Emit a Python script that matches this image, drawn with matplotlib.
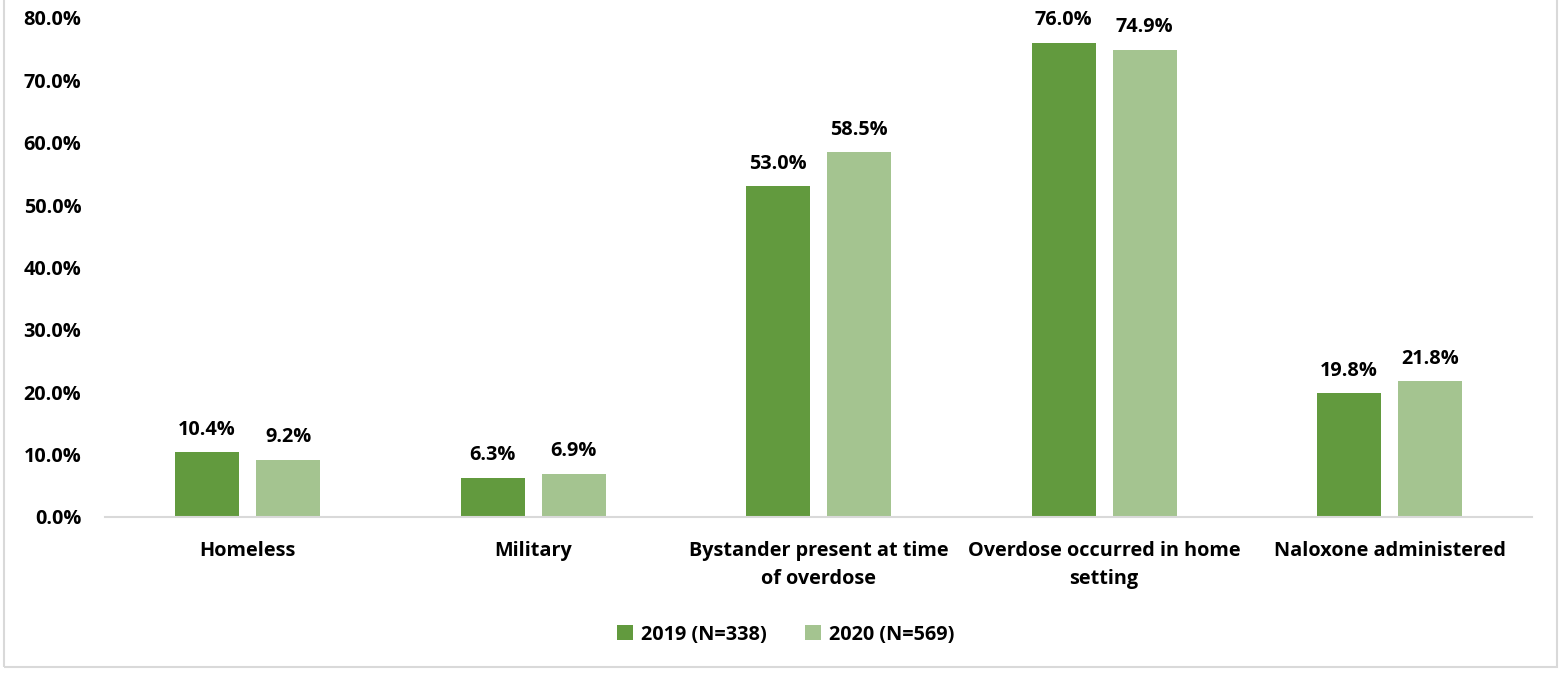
import numpy as np
import matplotlib.pyplot as plt
from matplotlib.patches import Rectangle

categories = ['Homeless', 'Military', 'Bystander present at time\nof overdose',
              'Overdose occurred in home\nsetting', 'Naloxone administered']
series_names = ['2019 (N=338)', '2020 (N=569)']
vals_2019 = [10.4, 6.3, 53.0, 76.0, 19.8]
vals_2020 = [9.2, 6.9, 58.5, 74.9, 21.8]
y_ticks = [0, 10, 20, 30, 40, 50, 60, 70, 80]

plt.rcParams['font.family'] = ['Open Sans', 'DejaVu Sans']
plt.rcParams['font.weight'] = 'bold'
FS = 14.3

fig = plt.figure(figsize=(15.62, 6.73), dpi=100)
ax = fig.add_axes([0.0672, 0.2318, 0.9138, 0.7415])

colors = ['#629A3E', '#A4C490']
x = np.arange(len(categories))
width = 0.224
offset = 0.142
for i, (vals, name) in enumerate(zip([vals_2019, vals_2020], series_names)):
    pos = x + (-offset if i == 0 else offset)
    bars = ax.bar(pos, vals, width, color=colors[i], label=name, zorder=2)
    for b, v in zip(bars, vals):
        ax.annotate(f'{v:.1f}%', (b.get_x() + b.get_width() / 2, v),
                    xytext=(0, 9), textcoords='offset points',
                    ha='center', va='bottom', fontsize=FS, fontweight='bold')

ax.set_xlim(-0.5, len(categories) - 0.5)
ax.set_ylim(0, 80)
ax.set_yticks(y_ticks)
ax.set_yticklabels([f'{t:.1f}%' for t in y_ticks], fontsize=FS, fontweight='bold')
ax.set_xticks(x)
ax.set_xticklabels(categories, fontsize=FS, fontweight='bold', linespacing=1.55)
ax.tick_params(axis='both', length=0)
ax.tick_params(axis='y', pad=17)
ax.tick_params(axis='x', pad=17)

for s in ['top', 'right', 'left']:
    ax.spines[s].set_visible(False)
ax.spines['bottom'].set_color('#D9D9D9')
ax.spines['bottom'].set_linewidth(1.5)

leg = fig.legend(loc='center', bbox_to_anchor=(0.503, 0.057), ncol=2, frameon=False,
                 fontsize=FS, handlelength=0.8, handleheight=0.8, columnspacing=1.9,
                 handletextpad=0.4)

# light grey frame around the chart area
fig.patches.append(Rectangle((4 / 1562, 6 / 673), 1553 / 1562, 1.0, transform=fig.transFigure,
                             fill=False, edgecolor='#D9D9D9', linewidth=1.5))

fig.savefig('out.png', dpi=100)
